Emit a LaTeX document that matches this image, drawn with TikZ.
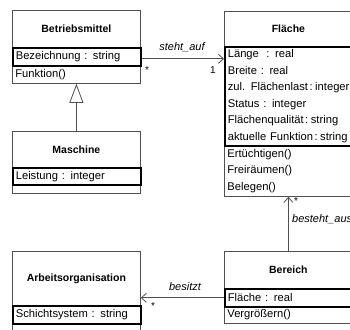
\documentclass[tikz,border=0pt]{standalone}
\usepackage{fontspec}
\setmainfont{Liberation Sans}
\usetikzlibrary{arrows.meta}
\definecolor{boxgray}{HTML}{505050}
\newcommand{\tightcolon}{\hspace{1.5pt}:\hspace{2.5pt}}
\tikzset{
  namebox/.style={draw=boxgray, line width=0.8pt, anchor=north west, minimum width=128pt, inner sep=0pt, align=center, font=\bfseries\fontsize{10.5}{13}\selectfont},
  attrbox/.style={draw=black, line width=1.6pt, anchor=north west, text width=122pt, inner xsep=3pt, inner ysep=0pt, align=left, font=\fontsize{11.2}{16.5}\selectfont},
  opsbox/.style={draw=boxgray, line width=0.8pt, anchor=north west, text width=122pt, inner xsep=3pt, inner ysep=0pt, align=left, font=\fontsize{11.2}{16.5}\selectfont},
  widebox/.style={text width=150pt},
  assoc/.style={draw=boxgray, line width=0.8pt, -{Straight Barb[length=5pt, width=9pt, line width=0.8pt]}},
  gen/.style={draw=boxgray, line width=0.8pt, -{Triangle[open, length=19pt, width=14pt, line width=0.8pt, fill=white]}},
  rolelbl/.style={inner sep=0pt, font=\itshape\fontsize{11}{13}\selectfont},
  multlbl/.style={inner sep=0pt, font=\fontsize{10}{12}\selectfont},
}
\begin{document}
\begin{tikzpicture}[x=1pt, y=-1pt]
\useasboundingbox (0,0) rectangle (350,329);
\fill[white] (0,0) rectangle (350,329);
% Betriebsmittel
\node[namebox, minimum height=37pt] (bm-name) at (12,10) {Betriebsmittel};
\node[opsbox, minimum height=18pt] (bm-ops) at (12,65) {Funktion()};
\node[attrbox, minimum height=18pt] (bm-attr) at (12,47) {Bezeichnung : string};
% Maschine
\node[namebox, minimum height=36pt] (ma-name) at (12,131) {Maschine};
\node[opsbox, minimum height=9pt] (ma-ops) at (12,184) {};
\node[attrbox, minimum height=17pt] (ma-attr) at (12,167) {Leistung : integer};
% Flaeche
\node[namebox, minimum height=35pt] (fl-name) at (224,11) {Fläche};
\node[opsbox, widebox, minimum height=51pt] (fl-ops) at (224,145) {Ertüchtigen()\\Freiräumen()\\Belegen()};
\node[attrbox, widebox, minimum height=99pt] (fl-attr) at (224,46) {Länge\ \ : real\\Breite : real\\zul. Flächenlast\tightcolon integer\\Status : integer\\Flächenqualität\tightcolon string\\aktuelle Funktion\tightcolon string};
% Arbeitsorganisation
\node[namebox, minimum height=54pt] (ao-name) at (12,251) {Arbeitsorganisation};
\node[opsbox, minimum height=20pt] (ao-ops) at (12,323) {};
\node[attrbox, minimum height=18pt] (ao-attr) at (12,305) {Schichtsystem : string};
% Bereich
\node[namebox, minimum height=37pt] (be-name) at (224,251) {Bereich};
\node[opsbox, widebox, minimum height=17pt] (be-ops) at (224,306) {Vergrößern()};
\node[attrbox, widebox, minimum height=18pt] (be-attr) at (224,288) {Fläche : real};
% connectors
\coordinate (sa-start) at ([yshift=-2pt]bm-attr.east);
\draw[assoc] (sa-start) -- (sa-start -| fl-attr.west);
\draw[gen] (ma-name.north) -- (bm-ops.south);
\draw[assoc] (be-name.north) -- (be-name.north |- fl-ops.south);
\draw[assoc] (be-attr.west) -- (be-attr.west -| ao-name.east);
% labels
\node[rolelbl] (l-sa) at (182,47) {steht\_auf};
\node[multlbl] (m-sa1) at (147,70) {*};
\node[multlbl] (m-sa2) at (213,70) {1};
\node[rolelbl, anchor=west] (l-ba) at (292,219) {besteht\_aus};
\node[multlbl] (m-ba) at (296,201) {*};
\node[rolelbl] (l-bs) at (185,287) {besitzt};
\node[multlbl] (m-bs) at (153,306) {*};
\end{tikzpicture}
\end{document}
